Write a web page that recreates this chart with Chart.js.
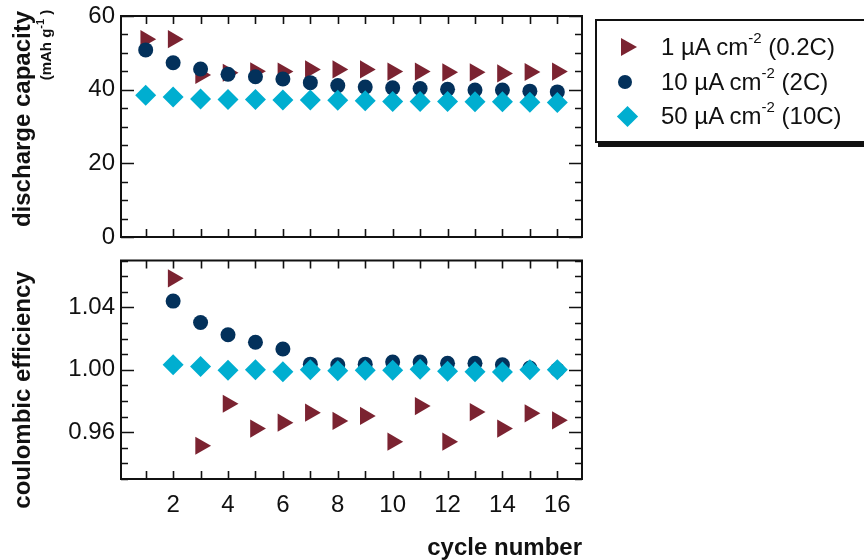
<!DOCTYPE html>
<html>
<head>
<meta charset="utf-8">
<script src="https://cdn.jsdelivr.net/npm/chart.js@4.4.1/dist/chart.umd.min.js"></script>
<style>
  html, body { margin: 0; padding: 0; background: #fff; }
  #wrap { position: relative; width: 864px; height: 560px; overflow: hidden;
          font-family: "Liberation Sans", Arial, sans-serif; color: #111; }
  canvas { position: absolute; left: 0; }
  #capCanvas { top: 0; }
  #ceCanvas { top: 250px; }
  .ytitle { position: absolute; transform: translate(-50%, -50%) rotate(-90deg);
            white-space: nowrap; font-weight: bold; font-size: 24px; }
  .units { font-size: 15px; }
  .units sup { font-size: 11px; position: relative; top: -3px; vertical-align: top; }
  #legend { position: absolute; left: 595px; top: 19px; width: 290px; height: 124px;
            box-sizing: border-box; border: 2px solid #111; box-shadow: 3px 4px 0 #111; background: #fff; }
  .row { position: absolute; left: 64px; height: 28px; line-height: 28px; font-size: 24px; white-space: nowrap; }
  .row sup { font-size: 15px; position: relative; top: -12px; vertical-align: baseline; line-height: 0; }
  .mk { position: absolute; }
</style>
</head>
<body>
<div id="wrap">
  <canvas id="capCanvas" width="600" height="250"></canvas>
  <canvas id="ceCanvas" width="600" height="310"></canvas>
  <div class="ytitle" style="left:22px; top:119px;">discharge capacity</div>
  <div class="ytitle units" style="left:45px; top:45px;">(mAh g<sup>-1</sup> )</div>
  <div class="ytitle" style="left:22px; top:390px;">coulombic efficiency</div>
  <div id="legend"></div>
</div>
<script>
// Cycle numbers shared by both panels
const cycles = [1, 2, 3, 4, 5, 6, 7, 8, 9, 10, 11, 12, 13, 14, 15, 16];

// Discharge capacity (mAh g^-1) per current density
const cap1uA  = [53.7, 53.7, 44.0, 44.6, 45.0, 44.9, 45.5, 45.5, 45.5, 44.9, 44.9, 44.7, 44.7, 44.4, 44.8, 44.9];
const cap10uA = [50.8, 47.3, 45.6, 44.2, 43.5, 42.9, 41.9, 41.1, 40.7, 40.5, 40.3, 40.1, 39.9, 39.9, 39.6, 39.4];
const cap50uA = [38.5, 38.0, 37.5, 37.3, 37.3, 37.2, 37.2, 37.1, 37.0, 36.8, 36.8, 36.8, 36.7, 36.7, 36.6, 36.5];

// Coulombic efficiency (no value for the first cycle)
const ce1uA  = [null, 1.0586, 0.9513, 0.9782, 0.9623, 0.9661, 0.9725, 0.9672, 0.9704, 0.9539, 0.9767, 0.9539, 0.9729, 0.9623, 0.9721, 0.9676];
const ce10uA = [null, 1.0440, 1.0303, 1.0224, 1.0176, 1.0133, 1.0036, 1.0032, 1.0036, 1.0049, 1.0049, 1.0042, 1.0042, 1.0032, 1.0011, 1.0000];
const ce50uA = [null, 1.0032, 1.0021, 0.9996, 1.0000, 0.9987, 1.0000, 0.9994, 0.9996, 0.9996, 1.0004, 0.9990, 0.9987, 0.9985, 1.0000, 1.0000];

// Series names (HTML for the superscript) and axis tick values
const seriesNames = ['1 µA cm<sup>-2</sup> (0.2C)', '10 µA cm<sup>-2</sup> (2C)', '50 µA cm<sup>-2</sup> (10C)'];
const capTicks = [0, 20, 40, 60];
const ceTicks = [0.96, 1.00, 1.04];
const cycleLabels = ['2', '4', '6', '8', '10', '12', '14', '16'];

const FONT = '"Liberation Sans", Arial, sans-serif';
const INK = '#111';
const seriesStyle = [
  { pointStyle: 'triangle', rotation: 90, radius: 10.5, color: '#7b2331', order: 3 },
  { pointStyle: 'circle',   rotation: 0,  radius: 7.5,  color: '#03315b', order: 2 },
  { pointStyle: 'rectRot',  rotation: 0,  radius: 10.5, color: '#00aed0', order: 1 }
];

// Inward tick marks on all four sides plus a closed frame
const frameTicks = {
  id: 'frameTicks',
  afterDatasetsDraw(chart, args, o) {
    const { ctx, chartArea: a, scales } = chart;
    const xs = scales.x, ys = scales.y;
    ctx.save();
    ctx.strokeStyle = INK;
    ctx.lineWidth = 1.6;
    ctx.beginPath();
    xs.ticks.forEach(t => {
      const px = Math.round(xs.getPixelForValue(t.value)) + 0.5;
      ctx.moveTo(px, a.bottom); ctx.lineTo(px, a.bottom - o.xLen);
      ctx.moveTo(px, a.top);    ctx.lineTo(px, a.top + o.xLen);
    });
    const majors = ys.ticks.map(t => t.value);
    const n0 = Math.ceil(ys.min / o.minorStep - 1e-6), n1 = Math.floor(ys.max / o.minorStep + 1e-6);
    for (let n = n0; n <= n1; n++) {
      const v = n * o.minorStep;
      const isMajor = majors.some(m => Math.abs(m - v) < o.minorStep / 10);
      const len = isMajor ? o.majorLen : o.minorLen;
      const py = Math.round(ys.getPixelForValue(v)) + 0.5;
      ctx.moveTo(a.left, py);  ctx.lineTo(a.left + len, py);
      ctx.moveTo(a.right, py); ctx.lineTo(a.right - len, py);
    }
    ctx.stroke();
    ctx.lineWidth = 2;
    ctx.strokeRect(a.left, a.top, a.right - a.left, a.bottom - a.top);
    ctx.restore();
  }
};

function makeDatasets(seriesList) {
  return seriesList.map((vals, i) => {
    const s = seriesStyle[i];
    return {
      label: seriesNames[i].replace(/<\/?sup>/g, ''),
      data: cycles.map((c, k) => ({ x: c, y: vals[k] })).filter(p => p.y !== null),
      pointStyle: s.pointStyle,
      pointRotation: s.rotation,
      pointRadius: s.radius,
      pointHoverRadius: s.radius,
      pointBackgroundColor: s.color,
      pointBorderColor: s.color,
      pointBorderWidth: 0,
      showLine: false,
      order: s.order,
      clip: false
    };
  });
}

function xScale(showLabels, height) {
  return {
    type: 'linear', min: 0.1, max: 16.9,
    grid: { display: false, drawTicks: false }, border: { display: false },
    afterBuildTicks: sc => { sc.ticks = cycles.map(v => ({ value: v })); },
    afterFit: sc => { sc.height = height; sc.paddingLeft = 0; sc.paddingRight = 0; },
    ticks: {
      display: showLabels, padding: 12, color: INK, font: { family: FONT, size: 24 },
      autoSkip: false, maxRotation: 0,
      callback: v => cycleLabels.includes(String(v)) ? String(v) : ''
    },
    title: {
      display: showLabels, text: 'cycle number', align: 'end', color: INK,
      font: { family: FONT, size: 24, weight: 'bold', lineHeight: 1 }, padding: 0
    }
  };
}

function yScale(min, max, tickVals, fmt) {
  return {
    type: 'linear', min, max,
    grid: { display: false, drawTicks: false }, border: { display: false },
    afterBuildTicks: sc => { sc.ticks = tickVals.map(v => ({ value: v })); },
    afterFit: sc => { sc.width = 121; sc.paddingTop = 0; sc.paddingBottom = 0; },
    ticks: { padding: 6, color: INK, font: { family: FONT, size: 24 }, callback: fmt }
  };
}

const common = {
  responsive: false, animation: false, devicePixelRatio: 1,
  plugins: { legend: { display: false }, tooltip: { enabled: false } }
};

new Chart(document.getElementById('capCanvas'), {
  type: 'scatter',
  data: { datasets: makeDatasets([cap1uA, cap10uA, cap50uA]) },
  options: Object.assign({}, common, {
    layout: { padding: { top: 16, right: 18, bottom: 13, left: 0 } },
    scales: { x: xScale(false, 0), y: yScale(0, 60, capTicks, v => String(v)) },
    plugins: Object.assign({}, common.plugins, { frameTicks: { xLen: 8, majorLen: 13, minorLen: 7, minorStep: 5 } })
  }),
  plugins: [frameTicks]
});

new Chart(document.getElementById('ceCanvas'), {
  type: 'scatter',
  data: { datasets: makeDatasets([ce1uA, ce10uA, ce50uA]) },
  options: Object.assign({}, common, {
    layout: { padding: { top: 10, right: 18, bottom: 0, left: 0 } },
    scales: { x: xScale(true, 81), y: yScale(0.93, 1.07, ceTicks, v => Number(v).toFixed(2)) },
    plugins: Object.assign({}, common.plugins, { frameTicks: { xLen: 8, majorLen: 13, minorLen: 7, minorStep: 0.01 } })
  }),
  plugins: [frameTicks]
});

// Legend box built from the series names and styles
const legend = document.getElementById('legend');
const rowCenters = [26, 61, 95];
seriesNames.forEach((name, i) => {
  const c = rowCenters[i];
  const row = document.createElement('div');
  row.className = 'row';
  row.style.top = (c - 14) + 'px';
  row.innerHTML = name;
  legend.appendChild(row);
  const mk = document.createElement('div');
  mk.className = 'mk';
  const col = seriesStyle[i].color;
  if (i === 0) {
    Object.assign(mk.style, { left: '24px', top: (c - 9) + 'px', width: 0, height: 0,
      borderLeft: '16px solid ' + col, borderTop: '9px solid transparent', borderBottom: '9px solid transparent' });
  } else if (i === 1) {
    Object.assign(mk.style, { left: '21px', top: (c - 7) + 'px', width: '14px', height: '14px',
      borderRadius: '50%', background: col });
  } else {
    Object.assign(mk.style, { left: '23px', top: (c - 7.5) + 'px', width: '15px', height: '15px',
      background: col, transform: 'rotate(45deg)' });
  }
  legend.appendChild(mk);
});
</script>
</body>
</html>
